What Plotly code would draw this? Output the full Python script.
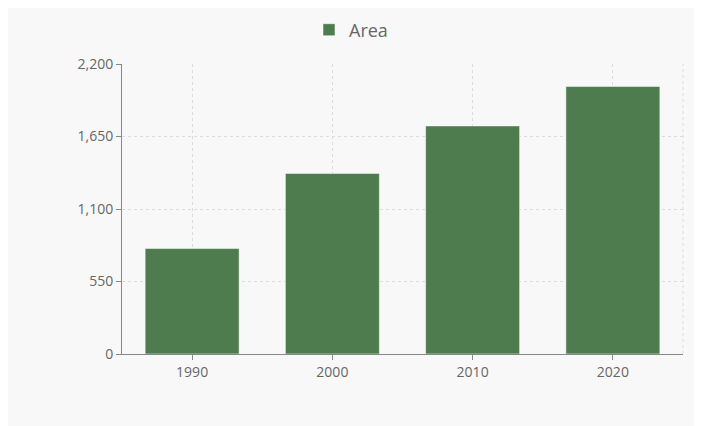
import plotly.graph_objects as go

years = ["1990", "2000", "2010", "2020"]
area = [800, 1370, 1730, 2030]
y_ticks = [0, 550, 1100, 1650, 2200]
y_tick_labels = ["0", "550", "1,100", "1,650", "2,200"]

W, H = 686, 418
ml, mr, mt, mb = 114, 11, 56, 72
legend_mid_px = 22    # vertical centre of the legend (figure px)
legend_ctr_px = 343   # horizontal centre of the legend (figure px)
pw = W - ml - mr
ph = H - mt - mb

fig = go.Figure()
fig.add_trace(go.Bar(
    x=years, y=area, name="Area",
    marker=dict(color="#4e7c4e", line=dict(color="rgba(255,255,255,0.5)", width=1)),
))

axis_common = dict(
    showline=True, linecolor="#888", linewidth=1,
    ticks="outside", ticklen=5, tickcolor="#888",
    tickfont=dict(family="Open Sans", size=14, color="#666"),
    gridcolor="#dcdcdc", griddash="dot", gridwidth=1,
    zeroline=False,
)

fig.update_layout(
    width=W, height=H,
    margin=dict(l=ml, r=mr, t=mt, b=mb, autoexpand=False),
    paper_bgcolor="#f8f8f8",
    plot_bgcolor="rgba(0,0,0,0)",
    bargap=0.33,
    showlegend=True,
    legend=dict(orientation="h", x=(legend_ctr_px - ml) / pw, xref="paper", xanchor="center",
                y=1 + (mt - legend_mid_px) / ph, yref="paper", yanchor="middle",
                font=dict(family="Open Sans", size=18, color="#666"),
                bgcolor="rgba(0,0,0,0)"),
    xaxis=dict(axis_common, type="category", showgrid=True),
    yaxis=dict(axis_common, range=[0, 2200], tickvals=y_ticks, ticktext=y_tick_labels,
               showgrid=True),
    shapes=[
        dict(type="line", xref="x domain", yref="y domain", x0=1, x1=1, y0=0, y1=1,
             line=dict(color="#dcdcdc", width=1, dash="dot"), layer="below"),
    ],
)

fig.write_html("out.html", config={"displayModeBar": False})
